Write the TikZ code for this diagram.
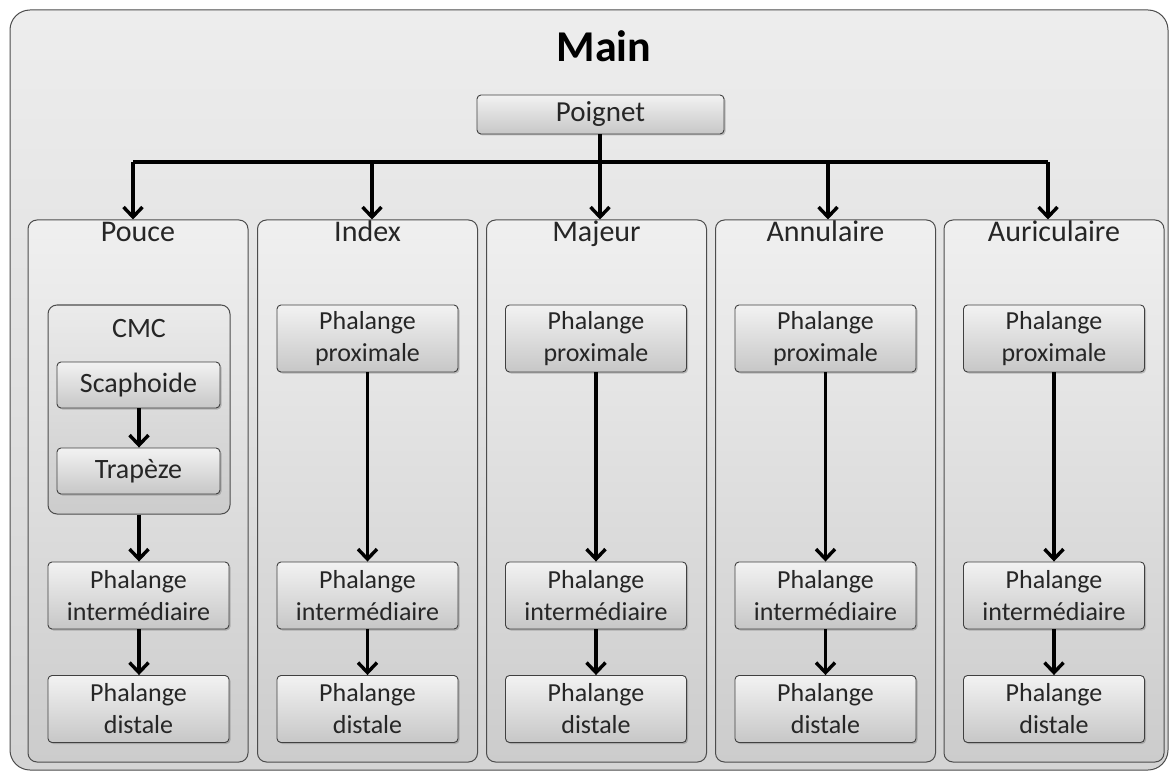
\documentclass[tikz,border=0pt]{standalone}
\usepackage{fontspec}
\setmainfont{Carlito}
\usetikzlibrary{arrows.meta,shadows}
\begin{document}
\begin{tikzpicture}[x=1pt,y=-1pt,
  every node/.style={text=black!85},
  outerbox/.style={draw=black!70, line width=1pt, rounded corners=20pt,
    top color=black!7, bottom color=black!17, inner sep=0pt},
  colbox/.style={draw=black!70, line width=1pt, rounded corners=9pt,
    top color=black!6, bottom color=black!20, inner sep=0pt,
    minimum width=220, minimum height=542},
  grpbox/.style={draw=black!70, line width=1pt, rounded corners=9pt,
    top color=black!8, bottom color=black!20, inner sep=0pt},
  leaf/.style={draw=black!75, line width=0.9pt, rounded corners=4pt,
    top color=black!5, bottom color=black!22, align=center, inner sep=0pt,
    drop shadow={shadow xshift=1.5pt, shadow yshift=-1.5pt, opacity=0.35, fill=black!60},
    font=\fontsize{26}{32}\selectfont, minimum width=181, minimum height=67},
  collabel/.style={anchor=base, font=\fontsize{30}{36}\selectfont},
  arr/.style={line width=3.6pt, -{Straight Barb[length=10pt,width=19pt,line width=3.4pt]}},
  conn/.style={line width=3.6pt}]
\useasboundingbox (0,0) rectangle (1176,778);

\node[outerbox, minimum width=1158, minimum height=760] (main) at (589,390) {};
\node[font=\bfseries\fontsize{44}{52}\selectfont, text=black] (title) at (604,46) {Main};

\node[leaf, minimum width=247, minimum height=39, font=\fontsize{29}{34}\selectfont] (poignet) at (600.5,114.5) {Poignet};

% columns
\node[colbox] (cP) at (138,491) {};
\node[colbox] (cI) at (367.5,491) {};
\node[colbox] (cM) at (596.5,491) {};
\node[colbox] (cA) at (825.5,491) {};
\node[colbox] (cU) at (1054,491) {};

\node[collabel] (lP) at (138,242) {Pouce};
\node[collabel] (lI) at (367.5,242) {Index};
\node[collabel] (lM) at (596.5,242) {Majeur};
\node[collabel] (lA) at (825.5,242) {Annulaire};
\node[collabel] (lU) at (1054,242) {Auriculaire};

% bus
\coordinate (b1) at (133,162);
\coordinate (b2) at (372,162);
\coordinate (b3) at (600,162);
\coordinate (b4) at (828,162);
\coordinate (b5) at (1048,162);
\draw[conn] (b1) -- (b5);
\draw[arr] (poignet.south -| b3) -- (b3 |- cM.north);
\draw[arr] (b1) -- (b1 |- cP.north);
\draw[arr] (b2) -- (b2 |- cI.north);
\draw[arr] (b4) -- (b4 |- cA.north);
\draw[arr] (b5) -- (b5 |- cU.north);

% Pouce
\node[grpbox, minimum width=182, minimum height=209] (cmc) at (139,409.5) {};
\node[anchor=base, font=\fontsize{28}{34}\selectfont] (cmcl) at (139,337) {CMC};
\node[leaf, minimum width=163, minimum height=46, font=\fontsize{28}{34}\selectfont] (sca) at (138.5,385) {Scaphoide};
\node[leaf, minimum width=163, minimum height=46, font=\fontsize{28}{34}\selectfont] (tra) at (138.5,471) {Trapèze};
\draw[arr] (sca.south -| cmc.center) -- (tra.north -| cmc.center);
\node[leaf] (iP) at (138.5,595.5) {Phalange\\intermédiaire};
\node[leaf] (dP) at (138.5,709) {Phalange\\distale};
\draw[arr] (cmc.south) -- (iP.north -| cmc.south);
\draw[arr] (iP.south -| cmc.south) -- (dP.north -| cmc.south);

% other fingers
\foreach \n/\x in {I/367.5, M/596, A/825.5, U/1054}{
  \node[leaf] (p\n) at (\x,338.5) {Phalange\\proximale};
  \node[leaf] (i\n) at (\x,595.5) {Phalange\\intermédiaire};
  \node[leaf] (d\n) at (\x,709) {Phalange\\distale};
  \draw[arr] (p\n.south) -- (i\n.north);
  \draw[arr] (i\n.south) -- (d\n.north);
}
\end{tikzpicture}
\end{document}
